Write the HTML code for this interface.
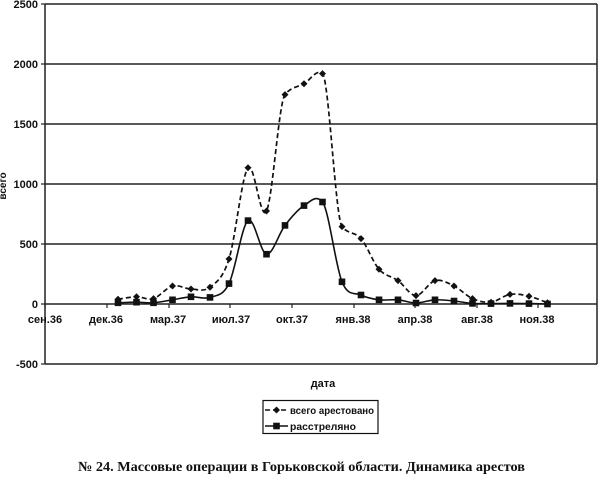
<!DOCTYPE html>
<html>
<head>
<meta charset="utf-8">
<style>
  html,body{margin:0;padding:0;background:#fff;}
  svg{display:block;}
  .lab{font-family:"Liberation Sans",Arial,sans-serif;font-weight:bold;font-size:11px;fill:#111;}
  .leg{font-family:"Liberation Sans",Arial,sans-serif;font-weight:bold;font-size:10px;fill:#111;}
  .cap{font-family:"Liberation Serif","Times New Roman",serif;font-weight:bold;font-size:14px;fill:#111;}
</style>
</head>
<body>
<svg width="600" height="482" viewBox="0 0 600 482" xmlns="http://www.w3.org/2000/svg">
  <rect x="0" y="0" width="600" height="482" fill="#fff"/>

  <!-- gridlines & border -->
  <g stroke="#222" stroke-width="1.5" fill="none">
    <line x1="45" y1="4" x2="597" y2="4"/>
    <line x1="45" y1="64" x2="597" y2="64"/>
    <line x1="45" y1="124" x2="597" y2="124"/>
    <line x1="45" y1="184" x2="597" y2="184"/>
    <line x1="45" y1="244" x2="597" y2="244"/>
    <line x1="45" y1="304" x2="597" y2="304"/>
    <line x1="45" y1="364" x2="597" y2="364"/>
    <line x1="45" y1="4" x2="45" y2="364"/>
    <line x1="597" y1="4" x2="597" y2="364"/>
  </g>
  <!-- y ticks -->
  <g stroke="#222" stroke-width="1.2">
    <line x1="41" y1="4" x2="45" y2="4"/>
    <line x1="41" y1="64" x2="45" y2="64"/>
    <line x1="41" y1="124" x2="45" y2="124"/>
    <line x1="41" y1="184" x2="45" y2="184"/>
    <line x1="41" y1="244" x2="45" y2="244"/>
    <line x1="41" y1="304" x2="45" y2="304"/>
    <line x1="41" y1="364" x2="45" y2="364"/>
  </g>
  <!-- x ticks -->
  <g stroke="#222" stroke-width="1.2">
    <line x1="45" y1="304" x2="45" y2="308"/>
    <line x1="107" y1="304" x2="107" y2="308"/>
    <line x1="169" y1="304" x2="169" y2="308"/>
    <line x1="230" y1="304" x2="230" y2="308"/>
    <line x1="292" y1="304" x2="292" y2="308"/>
    <line x1="354" y1="304" x2="354" y2="308"/>
    <line x1="415" y1="304" x2="415" y2="308"/>
    <line x1="477" y1="304" x2="477" y2="308"/>
    <line x1="538" y1="304" x2="538" y2="308"/>
  </g>

  <!-- y labels -->
  <g class="lab" text-anchor="end">
    <text x="38" y="8">2500</text>
    <text x="38" y="68">2000</text>
    <text x="38" y="128">1500</text>
    <text x="38" y="188">1000</text>
    <text x="38" y="248">500</text>
    <text x="38" y="308">0</text>
    <text x="38" y="368">-500</text>
  </g>
  <text class="leg" transform="translate(6,186) rotate(-90)" text-anchor="middle">всего</text>

  <!-- x labels -->
  <g class="lab" text-anchor="middle">
    <text x="45" y="323">сен.36</text>
    <text x="106" y="323">дек.36</text>
    <text x="168" y="323">мар.37</text>
    <text x="231" y="323">июл.37</text>
    <text x="292" y="323">окт.37</text>
    <text x="353" y="323">янв.38</text>
    <text x="415" y="323">апр.38</text>
    <text x="477" y="323">авг.38</text>
    <text x="537" y="323">ноя.38</text>
  </g>
  <text class="lab" x="323" y="387" text-anchor="middle">дата</text>

  <!-- total arrested (dashed) -->
  <path fill="none" stroke="#111" stroke-width="1.7" stroke-dasharray="5,3"
    d="M118,299.2 C121.08,298.8 130.58,296.9 136.5,296.8
       C142.42,296.7 147.5,300.4 153.5,298.6
       C159.5,296.8 166.25,287.6 172.5,286
       C178.75,284.4 184.75,288.8 191,289
       C197.25,289.2 203.67,292.2 210,287.2
       C216.33,282.2 222.67,278.9 229,259
       C235.33,239.1 241.75,175.8 248,167.8
       C254.25,159.8 260.33,223.2 266.5,211
       C272.67,198.8 278.75,102.6 285,94.6
       C291.25,86.6 297.75,87.3 304,83.8
       C310.25,80.3 316.17,68.6 322.5,73.6
       C328.83,78.6 335.58,218.6 342,226.6
       C348.42,234.6 354.83,231.5 361,238.6
       C367.17,245.7 372.83,262.2 379,269.2
       C385.17,276.2 391.83,276.2 398,280.6
       C404.17,285 409.83,295.6 416,295.6
       C422.17,295.6 428.67,282.2 435,280.6
       C441.33,279 447.75,283 454,286
       C460.25,289 466.33,295.9 472.5,298.6
       C478.67,301.3 484.75,302.9 491,302.2
       C497.25,301.5 503.67,295.4 510,294.4
       C516.33,293.4 522.75,294.8 529,296.2
       C535.25,297.6 544.42,301.7 547.5,302.8"/>

  <!-- shot (solid) -->
  <path fill="none" stroke="#111" stroke-width="1.6"
    d="M118,302.8 C121.08,302.7 130.58,302.2 136.5,302.2
       C142.42,302.2 147.5,303.2 153.5,302.8
       C159.5,302.4 166.25,300.8 172.5,299.8
       C178.75,298.8 184.75,297.2 191,296.8
       C197.25,296.4 203.67,299.6 210,297.4
       C216.33,295.2 222.67,296.4 229,283.6
       C235.33,270.8 241.75,225.5 248,220.6
       C254.25,215.7 260.33,253.4 266.5,254.2
       C272.67,255 278.75,233.5 285,225.4
       C291.25,217.3 297.75,209.5 304,205.6
       C310.25,201.7 316.17,194 322.5,202
       C328.83,210 335.58,266.3 342,281.8
       C348.42,297.3 354.83,292 361,295
       C367.17,298 372.83,299 379,299.8
       C385.17,300.6 391.83,299.3 398,299.8
       C404.17,300.3 409.83,303 416,303
       C422.17,303 428.67,300.1 435,299.8
       C441.33,299.5 447.75,300.4 454,301
       C460.25,301.6 466.33,303 472.5,303.4
       C478.67,303.8 484.75,303.6 491,303.6
       C497.25,303.6 503.67,303.4 510,303.4
       C516.33,303.4 522.75,303.5 529,303.6
       C535.25,303.7 544.42,303.9 547.5,304"/>

  <!-- diamonds -->
  <g fill="#111">
    <path d="M118,295.7 l3.5,3.5 l-3.5,3.5 l-3.5,-3.5z"/>
    <path d="M136.5,293.3 l3.5,3.5 l-3.5,3.5 l-3.5,-3.5z"/>
    <path d="M153.5,295.1 l3.5,3.5 l-3.5,3.5 l-3.5,-3.5z"/>
    <path d="M172.5,282.5 l3.5,3.5 l-3.5,3.5 l-3.5,-3.5z"/>
    <path d="M191,285.5 l3.5,3.5 l-3.5,3.5 l-3.5,-3.5z"/>
    <path d="M210,283.7 l3.5,3.5 l-3.5,3.5 l-3.5,-3.5z"/>
    <path d="M229,255.5 l3.5,3.5 l-3.5,3.5 l-3.5,-3.5z"/>
    <path d="M248,164.3 l3.5,3.5 l-3.5,3.5 l-3.5,-3.5z"/>
    <path d="M266.5,207.5 l3.5,3.5 l-3.5,3.5 l-3.5,-3.5z"/>
    <path d="M285,91.1 l3.5,3.5 l-3.5,3.5 l-3.5,-3.5z"/>
    <path d="M304,80.3 l3.5,3.5 l-3.5,3.5 l-3.5,-3.5z"/>
    <path d="M322.5,70.1 l3.5,3.5 l-3.5,3.5 l-3.5,-3.5z"/>
    <path d="M342,223.1 l3.5,3.5 l-3.5,3.5 l-3.5,-3.5z"/>
    <path d="M361,235.1 l3.5,3.5 l-3.5,3.5 l-3.5,-3.5z"/>
    <path d="M379,265.7 l3.5,3.5 l-3.5,3.5 l-3.5,-3.5z"/>
    <path d="M398,277.1 l3.5,3.5 l-3.5,3.5 l-3.5,-3.5z"/>
    <path d="M416,292.1 l3.5,3.5 l-3.5,3.5 l-3.5,-3.5z"/>
    <path d="M435,277.1 l3.5,3.5 l-3.5,3.5 l-3.5,-3.5z"/>
    <path d="M454,282.5 l3.5,3.5 l-3.5,3.5 l-3.5,-3.5z"/>
    <path d="M472.5,295.1 l3.5,3.5 l-3.5,3.5 l-3.5,-3.5z"/>
    <path d="M491,298.7 l3.5,3.5 l-3.5,3.5 l-3.5,-3.5z"/>
    <path d="M510,290.9 l3.5,3.5 l-3.5,3.5 l-3.5,-3.5z"/>
    <path d="M529,292.7 l3.5,3.5 l-3.5,3.5 l-3.5,-3.5z"/>
    <path d="M547.5,299.3 l3.5,3.5 l-3.5,3.5 l-3.5,-3.5z"/>
  </g>

  <!-- squares -->
  <g fill="#111">
    <rect x="114.7" y="299.5" width="6.6" height="6.6"/>
    <rect x="133.2" y="298.9" width="6.6" height="6.6"/>
    <rect x="150.2" y="299.5" width="6.6" height="6.6"/>
    <rect x="169.2" y="296.5" width="6.6" height="6.6"/>
    <rect x="187.7" y="293.5" width="6.6" height="6.6"/>
    <rect x="206.7" y="294.1" width="6.6" height="6.6"/>
    <rect x="225.7" y="280.3" width="6.6" height="6.6"/>
    <rect x="244.7" y="217.3" width="6.6" height="6.6"/>
    <rect x="263.2" y="250.9" width="6.6" height="6.6"/>
    <rect x="281.7" y="222.1" width="6.6" height="6.6"/>
    <rect x="300.7" y="202.3" width="6.6" height="6.6"/>
    <rect x="319.2" y="198.7" width="6.6" height="6.6"/>
    <rect x="338.7" y="278.5" width="6.6" height="6.6"/>
    <rect x="357.7" y="291.7" width="6.6" height="6.6"/>
    <rect x="375.7" y="296.5" width="6.6" height="6.6"/>
    <rect x="394.7" y="296.5" width="6.6" height="6.6"/>
    <rect x="412.7" y="299.7" width="6.6" height="6.6"/>
    <rect x="431.7" y="296.5" width="6.6" height="6.6"/>
    <rect x="450.7" y="297.7" width="6.6" height="6.6"/>
    <rect x="469.2" y="300.1" width="6.6" height="6.6"/>
    <rect x="487.7" y="300.3" width="6.6" height="6.6"/>
    <rect x="506.7" y="300.1" width="6.6" height="6.6"/>
    <rect x="525.7" y="300.3" width="6.6" height="6.6"/>
    <rect x="544.2" y="300.7" width="6.6" height="6.6"/>
  </g>

  <!-- legend -->
  <rect x="263" y="400.5" width="115" height="33" fill="#fff" stroke="#111" stroke-width="1.2"/>
  <line x1="265" y1="410" x2="288" y2="410" stroke="#111" stroke-width="1.6" stroke-dasharray="5,3"/>
  <path d="M276.5,406.5 l3.5,3.5 l-3.5,3.5 l-3.5,-3.5z" fill="#111"/>
  <line x1="265" y1="426" x2="288" y2="426" stroke="#111" stroke-width="1.6"/>
  <rect x="273.2" y="422.7" width="6.6" height="6.6" fill="#111"/>
  <text class="leg" x="290" y="414" textLength="84" lengthAdjust="spacingAndGlyphs">всего арестовано</text>
  <text class="leg" x="290" y="430" textLength="66" lengthAdjust="spacingAndGlyphs">расстреляно</text>

  <!-- caption -->
  <text class="cap" x="78" y="471" textLength="447" lengthAdjust="spacingAndGlyphs">№ 24. Массовые операции в Горьковской области. Динамика арестов</text>
</svg>
</body>
</html>
